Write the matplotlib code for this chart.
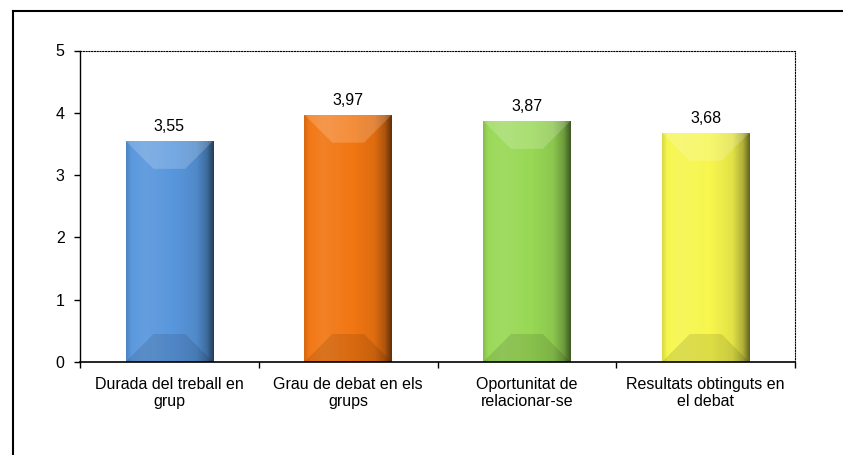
import numpy as np
import matplotlib
matplotlib.use("Agg")
import matplotlib.pyplot as plt
from matplotlib.colors import to_rgb, LinearSegmentedColormap
from matplotlib.patches import Polygon
from matplotlib.lines import Line2D

plt.rcParams["font.family"] = ["Liberation Sans", "DejaVu Sans"]

categories = ["Durada del treball en\ngrup", "Grau de debat en els\ngrups",
              "Oportunitat de\nrelacionar-se", "Resultats obtinguts en\nel debat"]
values = [3.55, 3.97, 3.87, 3.68]
value_labels = ["3,55", "3,97", "3,87", "3,68"]
colors = ["#5896DC", "#F27612", "#98D855", "#F6F64E"]


def shade(c, f):
    c = np.array(to_rgb(c))
    if f >= 1:
        return tuple(c + (1 - c) * (f - 1))
    return tuple(c * f)


W, H = 843, 455
fig = plt.figure(figsize=(W / 100, H / 100), dpi=100)
ax = fig.add_axes([80 / W, 1 - 362 / H, (795 - 80) / W, (362 - 50.5) / H])

x = np.arange(len(values))
ax.set_xlim(-0.5, len(values) - 0.5)
ax.set_ylim(0, 5)
bars = ax.bar(x, values, width=0.49, color="none", edgecolor="none", zorder=2)

# bevel size in data units (about 28 px)
px_x = (len(values)) / (795 - 80)
px_y = 5 / (362 - 50.5)
d = 28

prof_pos = [0, 0.06, 0.22, 0.55, 0.8, 0.92, 1.0]
prof_f = [0.88, 1.02, 1.08, 1.0, 0.92, 0.72, 0.4]

for i, b in enumerate(bars):
    col = colors[i]
    x0, w, h = b.get_x(), b.get_width(), b.get_height()
    cmap = LinearSegmentedColormap.from_list(
        "g", [(p, shade(col, f)) for p, f in zip(prof_pos, prof_f)])
    grad = np.linspace(0, 1, 256)[None, :]
    im = ax.imshow(grad, cmap=cmap, extent=[x0, x0 + w, 0, h],
                   aspect="auto", zorder=2, interpolation="bilinear")
    im.set_clip_path(b)
    dx, dy = d * px_x, d * px_y
    top = Polygon([(x0, h), (x0 + w, h), (x0 + w - dx, h - dy), (x0 + dx, h - dy)],
                  closed=True, facecolor="white", alpha=0.18, edgecolor="none", zorder=3)
    bot = Polygon([(x0, 0), (x0 + w, 0), (x0 + w - dx, dy), (x0 + dx, dy)],
                  closed=True, facecolor="black", alpha=0.1, edgecolor="none", zorder=3)
    ax.add_patch(top)
    ax.add_patch(bot)
    ax.annotate(value_labels[i], (x0 + w / 2, h),
                xytext=(0, 5), textcoords="offset points",
                ha="center", va="bottom", fontsize=11.5)

ax.set_yticks(range(6))
ax.tick_params(axis="y", direction="out", length=4, width=1, pad=7, labelsize=11.5)
ax.set_xticks(x)
ax.set_xticklabels(categories, fontsize=11.5, linespacing=1.15)
ax.tick_params(axis="x", which="major", length=0, pad=11)
ax.set_xticks(np.arange(-0.5, len(values)), minor=True)
ax.tick_params(axis="x", which="minor", direction="out", length=4, width=1)

for s in ["top", "right"]:
    ax.spines[s].set_linestyle((0, (1, 1.5)))
    ax.spines[s].set_linewidth(0.8)
ax.spines["left"].set_linewidth(1)
ax.spines["bottom"].set_linewidth(1.2)

# outer chart frame
fx, fy = 12.5 / W, 1 - 10.5 / H
fig.add_artist(Line2D([fx, fx], [0, fy], color="black", lw=1.5, transform=fig.transFigure))
fig.add_artist(Line2D([fx, 1], [fy, fy], color="black", lw=1.5, transform=fig.transFigure))

fig.savefig("out.png", dpi=100)
